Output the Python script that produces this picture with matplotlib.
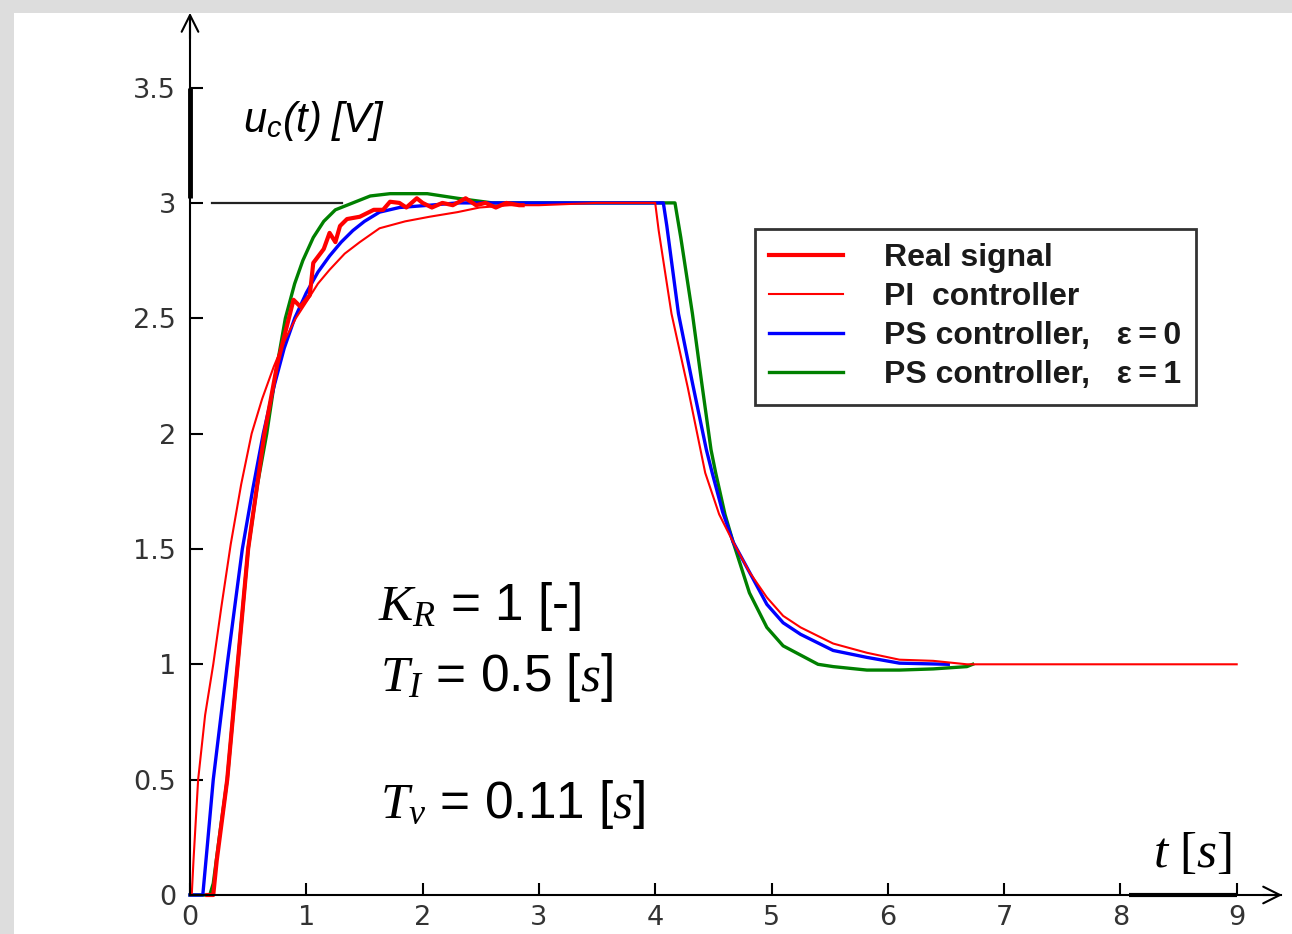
import matplotlib
matplotlib.use("Agg")
import matplotlib.pyplot as plt
from matplotlib.patches import Rectangle

plt.rcParams['mathtext.fontset'] = 'custom'
plt.rcParams['mathtext.it'] = 'Liberation Serif:italic'
plt.rcParams['mathtext.rm'] = 'Liberation Serif'
plt.rcParams['mathtext.tt'] = 'Liberation Sans:italic'

# ---------------- data ----------------
# PI controller (thin red)
pi_t = [0.00, 0.015, 0.03, 0.07, 0.13, 0.20, 0.27, 0.35, 0.44, 0.53, 0.62, 0.72, 0.82, 0.91, 1.00, 1.10, 1.20,
        1.33, 1.46, 1.63, 1.85, 2.06, 2.30, 2.49, 2.75, 3.00, 3.50, 3.98,
        4.00, 4.03, 4.14, 4.28, 4.43, 4.55, 4.67, 4.81, 4.96, 5.10, 5.25, 5.53, 5.82, 6.10, 6.39, 6.68, 7.30, 9.00]
pi_y = [0.00, 0.00, 0.15, 0.50, 0.78, 1.00, 1.25, 1.52, 1.78, 2.00, 2.15, 2.29, 2.41, 2.50, 2.57, 2.65, 2.71,
        2.78, 2.83, 2.89, 2.92, 2.94, 2.96, 2.98, 2.99, 2.99, 3.00, 3.00,
        3.00, 2.88, 2.52, 2.20, 1.83, 1.65, 1.53, 1.40, 1.29, 1.21, 1.16, 1.09, 1.05, 1.02, 1.015, 1.00, 1.00, 1.00]

# PS controller, eps = 0 (blue)
ps0_t = [0.00, 0.11, 0.15, 0.20, 0.26, 0.32, 0.39, 0.45, 0.54, 0.63, 0.72, 0.81, 0.90, 1.00, 1.10, 1.20, 1.30,
         1.40, 1.50, 1.63, 1.80, 2.06, 2.30, 2.50, 3.41,
         4.07, 4.10, 4.20, 4.32, 4.44, 4.49, 4.58, 4.67, 4.81, 4.96, 5.10, 5.25, 5.53, 5.82, 6.10, 6.52]
ps0_y = [0.00, 0.00, 0.22, 0.50, 0.75, 1.00, 1.27, 1.50, 1.76, 2.00, 2.20, 2.37, 2.50, 2.61, 2.70, 2.77, 2.83,
         2.88, 2.92, 2.96, 2.98, 2.99, 3.00, 3.00, 3.00,
         3.00, 2.90, 2.52, 2.22, 1.93, 1.83, 1.66, 1.53, 1.40, 1.26, 1.18, 1.13, 1.06, 1.03, 1.005, 1.00]

# PS controller, eps = 1 (green)
ps1_t = [0.00, 0.17, 0.20, 0.26, 0.32, 0.41, 0.50, 0.58, 0.66, 0.74, 0.82, 0.90, 0.97, 1.06, 1.15, 1.25, 1.40,
         1.55, 1.72, 2.04, 2.30, 2.60, 3.27,
         4.17, 4.22, 4.32, 4.40, 4.48, 4.52, 4.60, 4.67, 4.81, 4.96, 5.10, 5.25, 5.40, 5.53, 5.82, 6.10, 6.39, 6.68, 6.73]
ps1_y = [0.00, 0.00, 0.05, 0.28, 0.50, 1.00, 1.50, 1.78, 2.00, 2.27, 2.50, 2.65, 2.75, 2.85, 2.92, 2.97, 3.00,
         3.03, 3.04, 3.04, 3.02, 3.00, 3.00,
         3.00, 2.85, 2.52, 2.22, 1.93, 1.83, 1.65, 1.53, 1.31, 1.16, 1.08, 1.04, 1.00, 0.99, 0.975, 0.975, 0.98, 0.99, 1.00]

# Real signal (thick red, noisy)
real_t = [0.15, 0.20, 0.23, 0.32, 0.41, 0.50, 0.64, 0.75, 0.85, 0.89, 0.95, 1.03, 1.06, 1.15, 1.20, 1.25, 1.29, 1.35,
          1.46, 1.58, 1.66, 1.72, 1.80, 1.86, 1.95, 2.00, 2.08, 2.17, 2.26, 2.37, 2.46, 2.54, 2.63, 2.72, 2.83, 2.86]
real_y = [0.00, 0.00, 0.15, 0.50, 1.00, 1.50, 2.00, 2.30, 2.50, 2.58, 2.55, 2.60, 2.74, 2.80, 2.87, 2.83, 2.90, 2.93,
          2.94, 2.97, 2.97, 3.005, 3.00, 2.98, 3.02, 3.00, 2.98, 3.00, 2.99, 3.02, 2.99, 3.00, 2.98, 3.00, 2.99, 2.99]

setpoint_t = [0.19, 1.31]
setpoint_y = [3.0, 3.0]

x_ticks = [0, 1, 2, 3, 4, 5, 6, 7, 8, 9]
y_ticks = [0, 0.5, 1, 1.5, 2, 2.5, 3, 3.5]
y_ticklabels = ['0', '0.5', '1', '1.5', '2', '2.5', '3', '3.5']

legend_labels = ['Real signal', 'PI  controller',
                 'PS controller,   \u03b5\u2009=\u20090', 'PS controller,   \u03b5\u2009=\u20091']

# ---------------- figure ----------------
W, H = 1292, 934
fig = plt.figure(figsize=(W / 100, H / 100), dpi=100, facecolor='#dddddd')
fig.patches.append(Rectangle((14 / W, 0), 1 - 14 / W, 1 - 13 / H, transform=fig.transFigure,
                             facecolor='white', edgecolor='none', zorder=-10))
ax = fig.add_axes([0, 0, 1, 1])
ax.set_facecolor('none')
ax.set_zorder(1)

# pixel mapping: x 0 -> 190 px, 116.3 px/unit ; y 0 -> 895 px, 230.7 px/unit
ax.set_xlim(-190 / 116.3, (W - 190) / 116.3)
ax.set_ylim(-(H - 895) / 230.7, 895 / 230.7)

for s in ['top', 'right']:
    ax.spines[s].set_visible(False)
ax.spines['left'].set_position(('data', 0))
ax.spines['bottom'].set_position(('data', 0))
ax.spines['left'].set_bounds(0, 3.80)
ax.spines['bottom'].set_bounds(0, 9.38)
for s in ['left', 'bottom']:
    ax.spines[s].set_linewidth(1.5)
    ax.spines[s].set_color('black')

ax.set_xticks(x_ticks)
ax.set_xticklabels([str(v) for v in x_ticks])
ax.set_yticks(y_ticks)
ax.set_yticklabels(y_ticklabels)
ax.tick_params(direction='in', length=9, width=1.5, colors='black', labelcolor='#333333',
               labelsize=19.5)
ax.tick_params(axis='y', pad=10)
ax.tick_params(axis='x', pad=7)

# arrows
ax.annotate('', xy=(0, 895 / 230.7 - 10 / 230.7), xytext=(0, 3.7),
            arrowprops=dict(arrowstyle='->', lw=1.5, color='black', mutation_scale=30))
ax.annotate('', xy=((1285 - 190) / 116.3, 0), xytext=(9.2, 0),
            arrowprops=dict(arrowstyle='->', lw=1.5, color='black', mutation_scale=30))
# thicker original axis pieces
ax.plot([0, 0], [3.02, 3.5], color='black', lw=3.5, solid_capstyle='butt')
ax.plot([8.07, 9.0], [0, 0], color='black', lw=3.0, solid_capstyle='butt')

# setpoint
ax.plot(setpoint_t, setpoint_y, color='#222222', lw=1.6)

# curves
ax.plot(ps1_t, ps1_y, color='#008000', lw=2.4, label=legend_labels[3])
ax.plot(ps0_t, ps0_y, color='#0000ff', lw=2.4, label=legend_labels[2])
ax.plot(pi_t, pi_y, color='#ff0000', lw=1.5, label=legend_labels[1])
ax.plot(real_t, real_y, color='#ff0000', lw=3.0, label=legend_labels[0])

h, l = ax.get_legend_handles_labels()
order = [3, 2, 1, 0]
leg = ax.legend([h[i] for i in order], [l[i] for i in order], loc='upper left',
                bbox_to_anchor=(755 / W, 1 - 229 / H), frameon=True, fancybox=False,
                prop={'family': 'Liberation Sans', 'weight': 'bold', 'size': 23},
                handlelength=2.3, handletextpad=1.3, labelspacing=0.28, borderpad=0.45,
                borderaxespad=0)
leg.get_frame().set_edgecolor('black')
leg.get_frame().set_linewidth(2.0)
for t in leg.get_texts():
    t.set_color('#1a1a1a')

# labels
fig.text(243 / W, 1 - 132 / H, r'$\mathtt{u}_{\mathtt{c}}\mathtt{(t)\ [V]}$', fontsize=30,
         color='black', ha='left', va='baseline')
fig.text(1153 / W, 1 - 867 / H, r'$t\ [s]$', fontsize=37, color='black', ha='left', va='baseline')

pfont = dict(family='Liberation Sans', fontsize=37, color='black', ha='left', va='baseline')
fig.text(378 / W, 1 - 620 / H, r'$K_R$ = 1 [-]', **pfont)
fig.text(380 / W, 1 - 691 / H, r'$T_I$ = 0.5 [$s$]', **pfont)
fig.text(380 / W, 1 - 818 / H, r'$T_v$ = 0.11 [$s$]', **pfont)

fig.savefig('out.png', dpi=100, facecolor=fig.get_facecolor())
